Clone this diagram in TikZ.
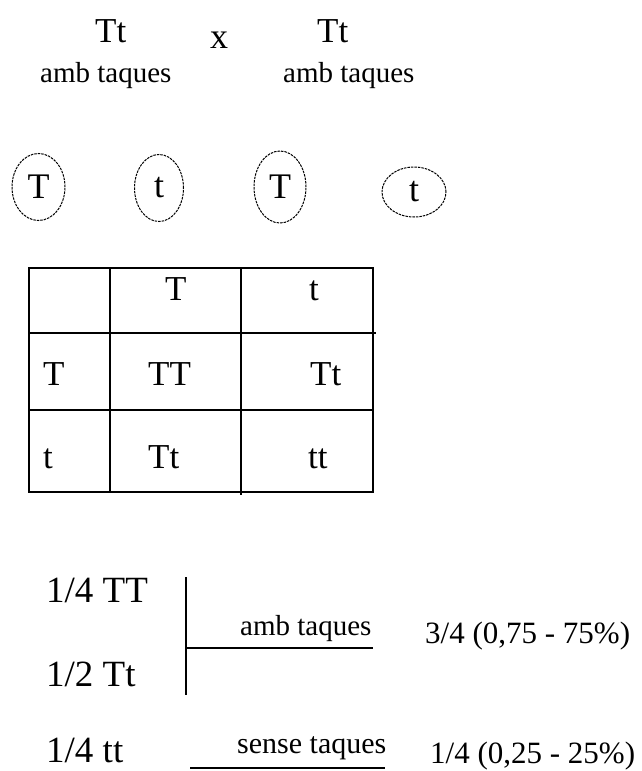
\documentclass[tikz,border=0pt]{standalone}
\usepackage{fontspec}
\setmainfont{Liberation Serif}
\usetikzlibrary{shapes.geometric}

\begin{document}
\begin{tikzpicture}[x=1pt, y=-1pt,
	txt/.style={inner sep=0, anchor=base west},
	gamete/.style={draw, ellipse, dash pattern=on 2.5pt off 1pt, line width=1pt, inner sep=0, font=\fontsize{36}{40}\selectfont},
	cell/.style={line width=1.3pt},
	big/.style={font=\fontsize{35}{40}\selectfont},
	small/.style={font=\fontsize{29}{34}\selectfont}]
	\useasboundingbox (0,0) rectangle (641,771);

	% parents
	\node[txt, big] (p1) at (95,42) {Tt};
	\node[txt, small] (l1) at (40,82) {amb taques};
	\node[txt, font=\fontsize{36}{40}\selectfont] (cross) at (210,48) {x};
	\node[txt, big] (p2) at (317,42) {Tt};
	\node[txt, small] (l2) at (283,82) {amb taques};

	% gametes
	\node[gamete, minimum width=53, minimum height=67] (g1) at (38.5,187) {T};
	\node[gamete, minimum width=49, minimum height=67] (g2) at (159,188) {t};
	\node[gamete, minimum width=52, minimum height=72] (g3) at (280,187) {T};
	\node[gamete, minimum width=64, minimum height=50] (g4) at (414,192) {t};

	% punnett square
	\draw[cell] (29,268) rectangle (373,492);
	\draw[cell] (29,333) -- (376,333);
	\draw[cell] (29,410) -- (373,410);
	\draw[cell] (110,268) -- (110,492);
	\draw[cell] (241,268) -- (241,495);

	\node[txt, big] (c1) at (165,300) {T};
	\node[txt, big] (c2) at (309,300) {t};
	\node[txt, big] (r1) at (43,385) {T};
	\node[txt, big] (r2) at (43,468) {t};
	\node[txt, big] (TT) at (148,385) {TT};
	\node[txt, big] (Tt1) at (310,385) {Tt};
	\node[txt, big] (Tt2) at (148,468) {Tt};
	\node[txt, big] (tt) at (308,468) {tt};

	% results
	\node[txt, font=\fontsize{37}{42}\selectfont] (f1) at (46,602) {1/4 TT};
	\node[txt, font=\fontsize{37}{42}\selectfont] (f2) at (46,686) {1/2 Tt};
	\node[txt, font=\fontsize{37}{42}\selectfont] (f3) at (46,762) {1/4 tt};

	\coordinate (b1) at (186,577);
	\coordinate (b2) at (186,695);
	\coordinate (b3) at (186,648);
	\coordinate (b4) at (373,648);
	\coordinate (s1) at (190,768);
	\coordinate (s2) at (385,768);
	\draw[cell] (b1) -- (b2);
	\draw[cell] (b3) -- (b4);
	\draw[cell] (s1) -- (s2);

	\node[txt, small] (amb) at (240,635) {amb taques};
	\node[txt, font=\fontsize{30}{34}\selectfont] (sense) at (237,753) {sense taques};
	\node[txt, font=\fontsize{31}{36}\selectfont] (res1) at (425,643) {3/4 (0,75 - 75\%)};
	\node[txt, font=\fontsize{31}{36}\selectfont] (res2) at (430,763) {1/4 (0,25 - 25\%)};
\end{tikzpicture}
\end{document}
